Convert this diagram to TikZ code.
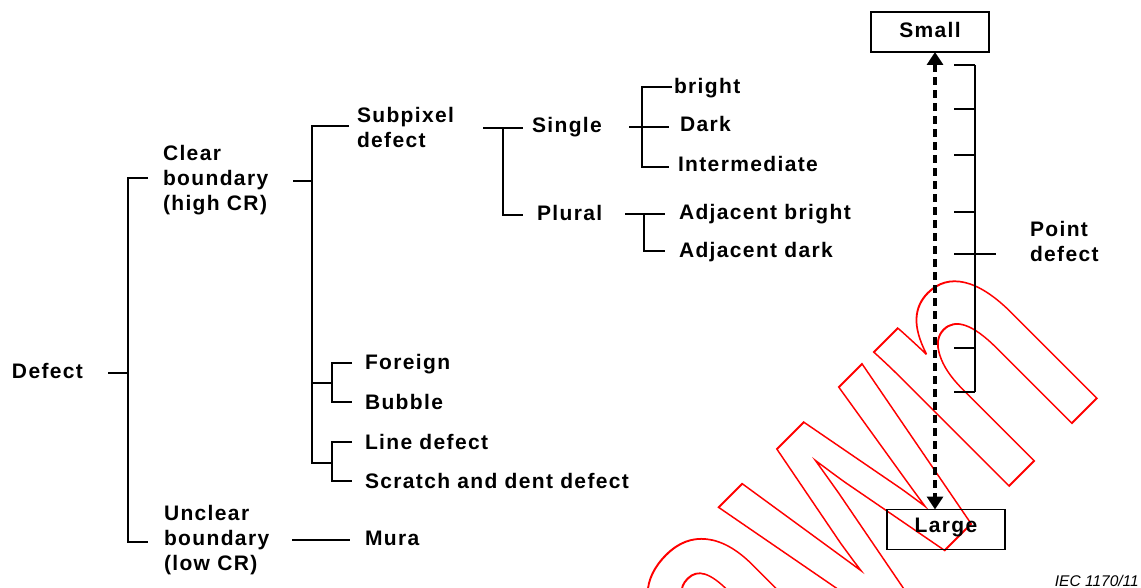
\documentclass[tikz,border=0pt]{standalone}
\usepackage{fontspec}
\usepackage{graphicx}
\setmainfont{Liberation Sans}
\newfontfamily\labfont{Liberation Sans Bold}[LetterSpace=6.5]
\newfontfamily\wmfont{Liberation Sans Bold}
\usetikzlibrary{arrows.meta}
\begin{document}
\begin{tikzpicture}[x=1pt,y=-1pt,
  lab/.style={font=\labfont\fontsize{21}{25}\selectfont, inner sep=0pt, outer sep=0pt, anchor=base west},
  ml/.style={lab, align=left, anchor=north west},
  ln/.style={line width=1.4pt},
  boxnode/.style={lab, draw, line width=1.4pt, anchor=center, minimum width=118pt, minimum height=40pt, text height=15pt},
  dasharrow/.style={line width=3.6pt, dash pattern=on 8pt off 5pt, {Triangle[width=16pt,length=13pt]}-{Triangle[width=16pt,length=13pt]}}
  ]
\useasboundingbox (0,0) rectangle (1141,588);
% watermark
\begin{scope}
\clip (0,0) rectangle (1141,588);
\node[anchor=base east, rotate=45, inner sep=0pt, outer sep=0pt, text=red] (wm) at (1108,387)
  {\wmfont\fontsize{360}{360}\selectfont\scalebox{0.72}[1]{\special{pdf:literal direct 1 Tr 2 w}Withdrawn}};
\end{scope}

% labels
\node[lab] (defect) at (12,378) {Defect};
\node[ml] (clear) at (163,145) {Clear\\boundary\\(high CR)};
\node[ml] (unclear) at (164,505) {Unclear\\boundary\\(low CR)};
\node[ml] (subpixel) at (357,107) {Subpixel\\defect};
\node[lab] (single) at (532,133) {Single};
\node[lab] (plural) at (537,221) {Plural};
\node[lab] (bright) at (674,94) {bright};
\node[lab] (dark) at (680,132) {Dark};
\node[lab] (inter) at (678,172) {Intermediate};
\node[lab] (adjb) at (679,220) {Adjacent bright};
\node[lab] (adjd) at (679,258) {Adjacent dark};
\node[lab] (foreign) at (365,369) {Foreign};
\node[lab] (bubble) at (365,409) {Bubble};
\node[lab] (linedef) at (365,449) {Line defect};
\node[lab] (scratch) at (365,488) {Scratch and dent defect};
\node[lab] (mura) at (365,545) {Mura};
\node[ml] (point) at (1030,221) {Point\\defect};
\node[boxnode, text depth=3.6pt] (small) at (930,32) {Small};
\node[boxnode, text depth=10pt] (large) at (946,529.5) {Large};
\node[anchor=base east, inner sep=0pt, font=\itshape\fontsize{15.5}{18}\selectfont] (iec) at (1139,586) {IEC 1170/11};

% junction coordinates
\coordinate (r0) at (108,373); \coordinate (r1) at (128,373);
\coordinate (rt) at (128,178); \coordinate (rb) at (128,542);
\coordinate (rte) at (148,178); \coordinate (rbe) at (148,542);
\coordinate (c0) at (293,181); \coordinate (c1) at (312,181);
\coordinate (ct) at (312,126); \coordinate (cb) at (312,463);
\coordinate (cte) at (349,126);
\coordinate (f0) at (312,383); \coordinate (f1) at (332,383);
\coordinate (ft) at (332,363); \coordinate (fb) at (332,402);
\coordinate (fte) at (352,363); \coordinate (fbe) at (352,402);
\coordinate (l1) at (332,463);
\coordinate (lt) at (332,442); \coordinate (lb) at (332,481);
\coordinate (lte) at (352,442); \coordinate (lbe) at (352,481);
\coordinate (s0) at (483,128); \coordinate (s1) at (523,128);
\coordinate (sj) at (503,128); \coordinate (sb) at (503,215); \coordinate (sbe) at (523,215);
\coordinate (g0) at (629,127); \coordinate (g1) at (669,127);
\coordinate (gt) at (642,87); \coordinate (gb) at (642,167);
\coordinate (gte) at (672,87); \coordinate (gbe) at (669,167);
\coordinate (p0) at (625,214); \coordinate (p1) at (665,214);
\coordinate (pj) at (644,214); \coordinate (pb) at (644,251); \coordinate (pbe) at (665,251);
\coordinate (u0) at (292,540); \coordinate (u1) at (350,540);

% tree connectors
\draw[ln] (r0) -- (r1);
\draw[ln] (rte) -- (rt) -- (rb) -- (rbe);
\draw[ln] (c0) -- (c1);
\draw[ln] (cte) -- (ct) -- (cb) -- (l1);
\draw[ln] (f0) -- (f1);
\draw[ln] (fte) -- (ft) -- (fb) -- (fbe);
\draw[ln] (lte) -- (lt) -- (lb) -- (lbe);
\draw[ln] (s0) -- (s1);
\draw[ln] (sj) -- (sb) -- (sbe);
\draw[ln] (g0) -- (g1);
\draw[ln] (gte) -- (gt) -- (gb) -- (gbe);
\draw[ln] (p0) -- (p1);
\draw[ln] (pj) -- (pb) -- (pbe);
\draw[ln] (u0) -- (u1);

% scale
\coordinate (kt) at (975,65); \coordinate (kb) at (975,392);
\draw[ln] (kt) -- (kb);
\foreach \yy in {65,109,155,212,348,392}{
  \draw[ln] (954,\yy) -- (975,\yy);
}
\coordinate (kl) at (954,254); \coordinate (kr) at (996,254);
\draw[ln] (kl) -- (kr);

% dashed double arrow
\draw[dasharrow] ([xshift=5pt]small.south) -- ([xshift=-11pt]large.north);
\end{tikzpicture}
\end{document}
